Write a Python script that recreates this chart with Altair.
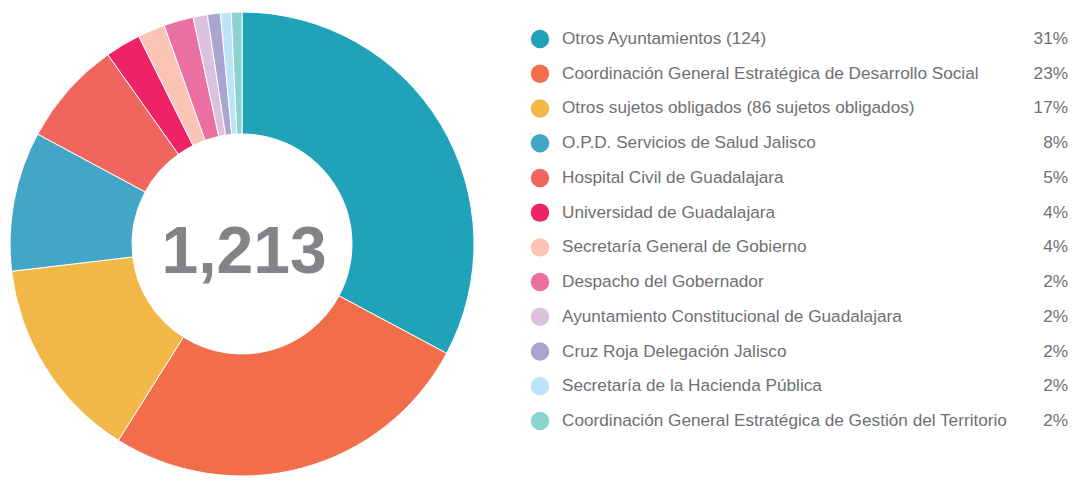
import altair as alt
import pandas as pd

names = [
    "Otros Ayuntamientos (124)",
    "Coordinación General Estratégica de Desarrollo Social",
    "Otros sujetos obligados (86 sujetos obligados)",
    "O.P.D. Servicios de Salud Jalisco",
    "Hospital Civil de Guadalajara",
    "Universidad de Guadalajara",
    "Secretaría General de Gobierno",
    "Despacho del Gobernador",
    "Ayuntamiento Constitucional de Guadalajara",
    "Cruz Roja Delegación Jalisco",
    "Secretaría de la Hacienda Pública",
    "Coordinación General Estratégica de Gestión del Territorio",
]
values = [398, 317, 172, 118, 89, 30, 23, 25, 12, 11, 9, 9]
pct_labels = ["31%", "23%", "17%", "8%", "5%", "4%", "4%", "2%", "2%", "2%", "2%", "2%"]
colors = [
    "#20a2b8", "#f26e4b", "#f2b847", "#44a6c6", "#f0665f", "#ee2266",
    "#fcc4b5", "#ec6fa1", "#dcc1df", "#aaa4d0", "#bde3f7", "#8cd3ce",
]
total_label = "1,213"

df = pd.DataFrame({
    "name": names,
    "value": values,
    "pct": pct_labels,
    "rank": list(range(len(names))),
})

FONT = "Liberation Sans"
color_scale = alt.Scale(domain=names, range=colors)
yscale = alt.Scale(domain=[0, 11], range=[31, 413])

base = alt.Chart(df)

pie = base.mark_arc(outerRadius=232, innerRadius=110, stroke="white", strokeWidth=1).encode(
    theta=alt.Theta("value:Q", stack=True),
    order=alt.Order("rank:Q"),
    color=alt.Color("name:N", scale=color_scale, legend=None),
    x=alt.value(234),
    y=alt.value(236),
)

center = alt.Chart(pd.DataFrame({"t": [total_label]})).mark_text(
    font=FONT, fontSize=66, fontWeight="bold", color="#838487",
    align="center", baseline="alphabetic",
).encode(text="t:N", x=alt.value(236), y=alt.value(265))

dots = base.mark_circle(size=340, opacity=1).encode(
    x=alt.value(532),
    y=alt.Y("rank:Q", scale=yscale, axis=None),
    color=alt.Color("name:N", scale=color_scale, legend=None),
)

labels = base.mark_text(
    font=FONT, fontSize=17.2, color="#6f7073", align="left", baseline="middle",
).encode(
    x=alt.value(554),
    y=alt.Y("rank:Q", scale=yscale, axis=None),
    text="name:N",
)

pcts = base.mark_text(
    font=FONT, fontSize=17.2, color="#6f7073", align="right", baseline="middle",
).encode(
    x=alt.value(1060),
    y=alt.Y("rank:Q", scale=yscale, axis=None),
    text="pct:N",
)

chart = alt.layer(pie, center, dots, labels, pcts).properties(
    width=1060, height=468, padding=0,
).configure_view(stroke=None)

chart.save("out.html", embed_options={"renderer": "svg", "actions": False})
